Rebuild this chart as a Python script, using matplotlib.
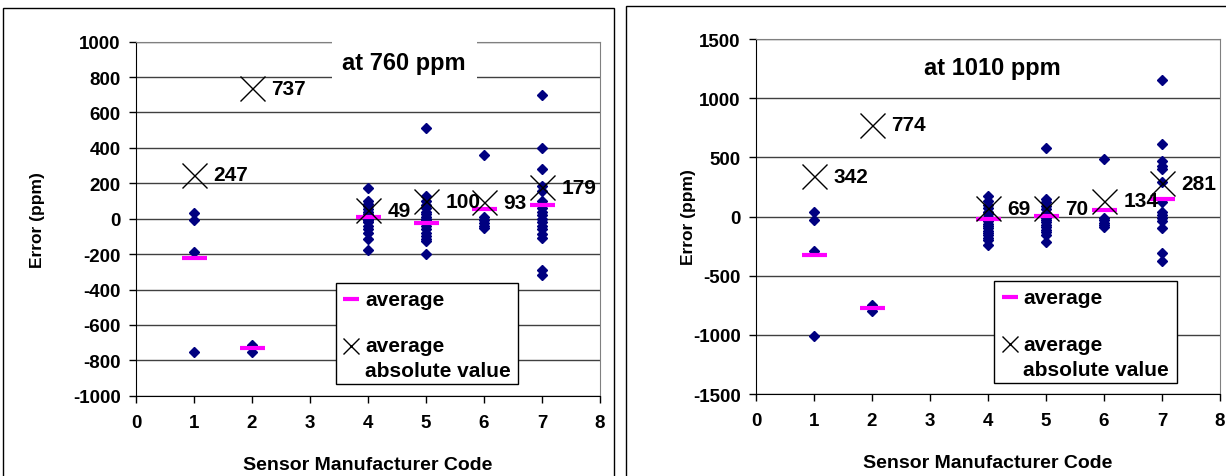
import matplotlib
matplotlib.use("Agg")
import matplotlib.pyplot as plt
from matplotlib.patches import Rectangle

plt.rcParams['font.family'] = ['Liberation Sans', 'DejaVu Sans']
plt.rcParams['font.weight'] = 'bold'
plt.rcParams['axes.unicode_minus'] = False

codes = [1, 2, 4, 5, 6, 7]

# sensor errors (ppm) at 760 ppm, one list per manufacturer code
errors_760 = [
    [32, -5, -190, -755],
    [-715, -755],
    [175, 100, 85, 70, 55, 40, 25, 15, 10, 5, 0, -5, -10, -20, -40, -60, -80, -115, -175],
    [515, 130, 100, 80, 60, 40, 25, 10, 0, -10, -25, -40, -60, -80, -100, -115, -125, -200],
    [360, 10, -10, -25, -40, -55],
    [700, 400, 280, 185, 155, 100, 60, 40, 20, 0, -20, -40, -60, -85, -110, -290, -320],
]
avg_760 = [-224, -730, 11, -27, 57, 77]
absavg_760 = [247, 737, 49, 100, 93, 179]

# sensor errors (ppm) at 1010 ppm
errors_1010 = [
    [35, -30, -295, -1010],
    [-748, -800],
    [170, 130, 100, 70, 40, 20, 0, -20, -40, -60, -80, -100, -120, -140, -160, -180, -200, -240],
    [575, 150, 120, 90, 60, 30, 10, -10, -30, -50, -70, -90, -110, -130, -160, -215],
    [490, -10, -30, -55, -75, -90],
    [1150, 615, 470, 430, 400, 290, 120, 40, 10, -10, -40, -95, -310, -375],
]
avg_1010 = [-328, -776, -17, 6, 59, 150]
absavg_1010 = [342, 774, 69, 70, 134, 281]


def legend_box(ax, x0, x1, y0, y1):
    """Excel style legend: handle aligned with the first line of each entry."""
    w, h = x1 - x0, y1 - y0
    ax.add_patch(Rectangle((x0, y0), w, h, transform=ax.transAxes, facecolor='white',
                           edgecolor='black', lw=1, zorder=10, clip_on=False))

    def pos(fx, fy):
        return x0 + fx * w, y1 - fy * h

    hx, hy = pos(0.085, 0.16)
    ax.plot([hx], [hy], '_', color='#FF00FF', ms=11, mew=3, transform=ax.transAxes,
            clip_on=False, zorder=11)
    ax.text(*pos(0.16, 0.16), 'average', transform=ax.transAxes, fontsize=15,
            va='center', ha='left', zorder=11)
    hx, hy = pos(0.085, 0.62)
    ax.plot([hx], [hy], 'x', color='black', ms=12, mew=1, transform=ax.transAxes,
            clip_on=False, zorder=11)
    ax.text(*pos(0.16, 0.62), 'average', transform=ax.transAxes, fontsize=15,
            va='center', ha='left', zorder=11)
    ax.text(*pos(0.16, 0.87), 'absolute value', transform=ax.transAxes, fontsize=15,
            va='center', ha='left', zorder=11)


def draw_panel(ax, errors, avgs, absavgs, ymax, ystep, title, title_xy, leg, ylab_x):
    for code, errs in zip(codes, errors):
        ax.plot([code] * len(errs), errs, 'D', color='#000080', ms=5.5, ls='none', zorder=3)
    ax.plot(codes, avgs, '_', color='#FF00FF', ms=18, mew=3, ls='none', zorder=4)
    ax.plot(codes, absavgs, 'x', color='black', ms=18, mew=1, ls='none', zorder=5)
    for code, v in zip(codes, absavgs):
        ax.annotate(str(v), (code, v), xytext=(14, 0), textcoords='offset points',
                    ha='left', va='center', fontsize=15, fontweight='bold', zorder=6)

    ax.set_xlim(0, 8)
    ax.set_ylim(-ymax, ymax)
    ax.set_xticks(range(0, 9))
    ax.set_yticks(range(-ymax, ymax + 1, ystep))
    ax.tick_params(axis='both', direction='out', length=5, width=1, labelsize=13.5)
    ax.tick_params(axis='x', pad=8)
    ax.tick_params(axis='y', pad=6)
    ax.yaxis.grid(True, color='#404040', lw=1)
    ax.set_axisbelow(True)
    for s in ['top', 'right']:
        ax.spines[s].set_color('#808080')
    for s in ['left', 'bottom']:
        ax.spines[s].set_color('black')

    ax.set_xlabel('Sensor Manufacturer Code', fontsize=14, fontweight='bold')
    ax.xaxis.set_label_coords(0.5, -0.17)
    ax.set_ylabel('Error (ppm)', fontsize=12.5, fontweight='bold')
    ax.yaxis.set_label_coords(ylab_x, 0.5)

    ax.text(title_xy[0], title_xy[1], title, transform=ax.transAxes, fontsize=17,
            fontweight='bold', ha='center', va='center', zorder=7,
            bbox=dict(boxstyle='square,pad=0.45', facecolor='white', edgecolor='none'))
    legend_box(ax, *leg)


fig = plt.figure(figsize=(12.26, 4.77), dpi=100)

# outer chart borders
fig.patches.append(Rectangle((0.0025, -0.1), 0.4985, 1.081, transform=fig.transFigure,
                             facecolor='none', edgecolor='black', lw=1))
fig.patches.append(Rectangle((0.5105, -0.1), 0.49, 1.085, transform=fig.transFigure,
                             facecolor='none', edgecolor='black', lw=1))

ax1 = fig.add_axes([0.1109, 0.1683, 0.3785, 0.7422])
ax2 = fig.add_axes([0.6166, 0.1719, 0.3785, 0.7442])

draw_panel(ax1, errors_760, avg_760, absavg_760, 1000, 200, 'at 760 ppm',
           (0.578, 0.94), (0.431, 0.823, 0.033, 0.318), -0.195)
draw_panel(ax2, errors_1010, avg_1010, absavg_1010, 1500, 500, 'at 1010 ppm',
           (0.51, 0.92), (0.513, 0.907, 0.031, 0.318), -0.13)

fig.savefig('out.png', dpi=100)
